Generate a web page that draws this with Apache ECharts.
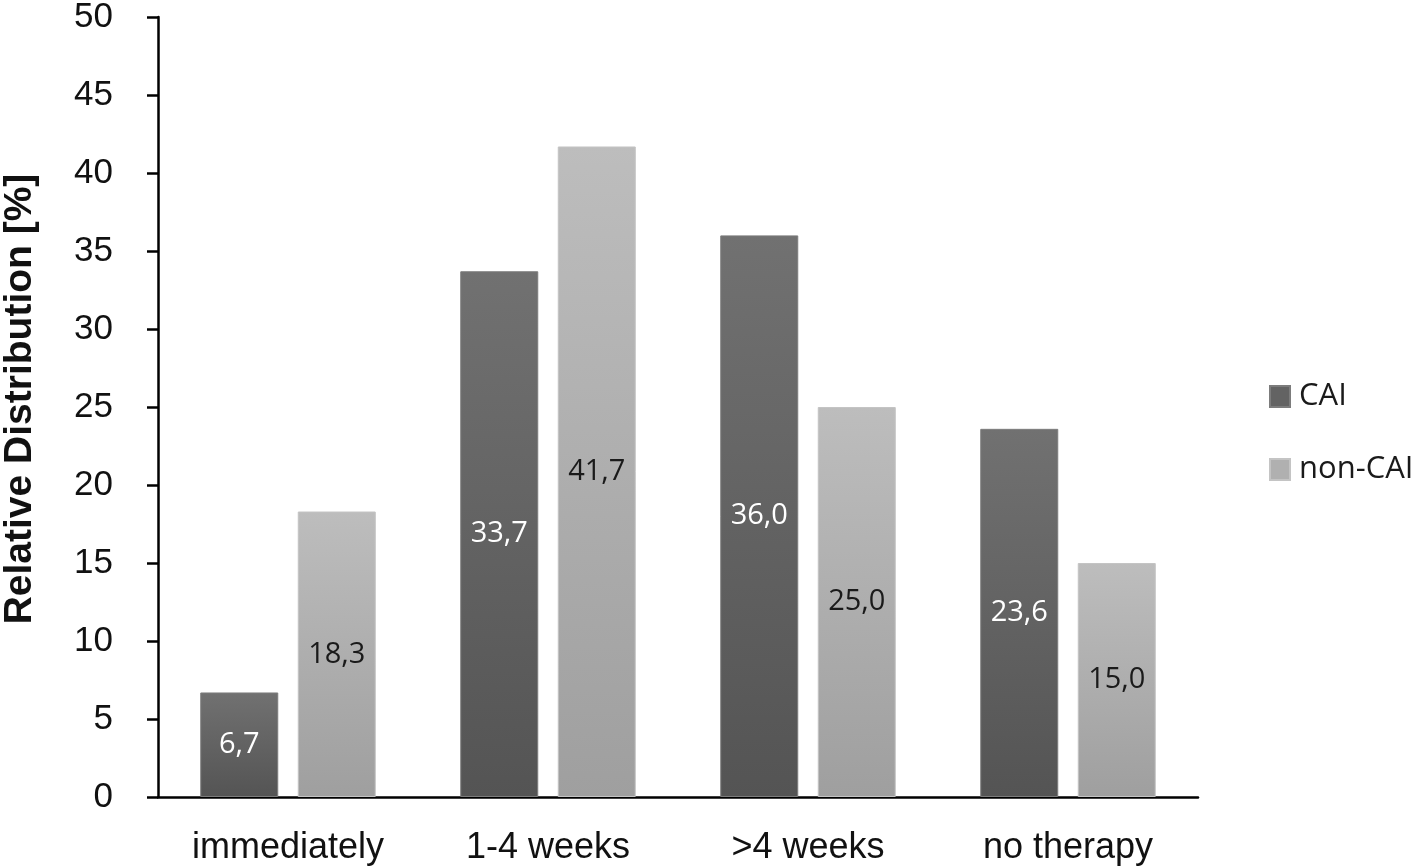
<!DOCTYPE html>
<html><head><meta charset="utf-8">
<script src="https://cdn.jsdelivr.net/npm/echarts@6/dist/echarts.min.js"></script>
<style>html,body{margin:0;padding:0;background:#fff}#c{width:1418px;height:868px}</style>
</head><body><div id="c"></div>
<script>
const categories = ['immediately', '1-4 weeks', '>4 weeks', 'no therapy'];
const caiValues = [6.7, 33.7, 36.0, 23.6];
const nonCaiValues = [18.3, 41.7, 25.0, 15.0];
const seriesNames = ['CAI', 'non-CAI'];
const yTicks = [0, 5, 10, 15, 20, 25, 30, 35, 40, 45, 50];

const chart = echarts.init(document.getElementById('c'));
const fmt = p => p.value.toFixed(1).replace('.', ',');
const grad = (a, b) => new echarts.graphic.LinearGradient(0, 0, 0, 1, [{offset: 0, color: a}, {offset: 1, color: b}]);
chart.setOption({
  animation: false,
  grid: {left: 158, right: 220, top: 17, bottom: 71, containLabel: false, outerBoundsMode: 'none'},
  legend: {
    orient: 'vertical', left: 1264, top: 376, itemGap: 42,
    itemWidth: 20, itemHeight: 21, icon: 'rect',
    textStyle: {fontFamily: 'Open Sans', fontSize: 31, lineHeight: 30, color: '#1a1a1a', padding: [0, 0, 0, 4]},
    data: [{name: seriesNames[0], itemStyle: {color: '#636363'}}, {name: seriesNames[1], itemStyle: {color: '#b0b0b0'}}]
  },
  xAxis: {
    type: 'category', data: categories,
    axisLine: {lineStyle: {color: '#000', width: 2.5}},
    axisTick: {show: false},
    axisLabel: {fontFamily: 'Liberation Sans', fontSize: 36, color: '#111', margin: 33}
  },
  yAxis: {
    type: 'value', min: 0, max: 50, interval: 5,
    name: 'Relative Distribution [%]', nameLocation: 'middle', nameGap: 118,
    nameTextStyle: {fontFamily: 'Liberation Sans', fontSize: 39, fontWeight: 'bold', color: '#111', padding: [0, 0, 0, 16]},
    axisLine: {show: true, lineStyle: {color: '#000', width: 2.5}},
    axisTick: {show: true, length: 11, lineStyle: {color: '#000', width: 2.5}},
    splitLine: {show: false},
    axisLabel: {fontFamily: 'Liberation Sans', fontSize: 35, color: '#111', margin: 45,
      formatter: v => yTicks.includes(v) ? String(v) : ''}
  },
  series: [
    {name: seriesNames[0], type: 'bar', data: caiValues, barWidth: '30%', barGap: '25%',
     itemStyle: {color: grad('#717171', '#545454'), borderColor: '#7c7c7c', borderWidth: 1},
     label: {show: true, position: 'inside', formatter: fmt, fontFamily: 'Open Sans', fontSize: 29, color: '#fff'}},
    {name: seriesNames[1], type: 'bar', data: nonCaiValues, barWidth: '30%',
     itemStyle: {color: grad('#bdbdbd', '#9f9f9f'), borderColor: '#c4c4c4', borderWidth: 1},
     label: {show: true, position: 'inside', formatter: fmt, fontFamily: 'Open Sans', fontSize: 29, color: '#1a1a1a'}}
  ]
});
</script></body></html>
